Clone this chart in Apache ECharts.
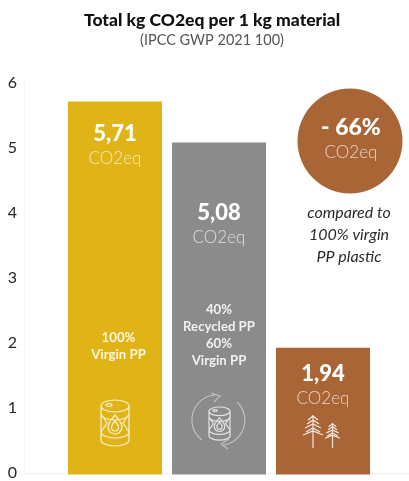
<!DOCTYPE html>
<html lang="en">

<head>
    <meta charset="UTF-8">
    <title>Total kg CO2eq per 1 kg material</title>
    <style>
        html, body { margin: 0; padding: 0; background: #fff; }
    </style>
</head>

<body>
    <div id="main" style="width: 409px;height:481px;"></div>
</body>
<script src="https://cdn.jsdelivr.net/npm/echarts@6/dist/echarts.min.js"></script>

<script>
    var categories = ['100% Virgin PP', '40% Recycled PP 60% Virgin PP', 'Bio-based PP'];
    var values = [5.71, 5.08, 1.94];
    var barColors = ['#E0B416', '#8C8B8B', '#A96536'];
    var yTicks = [0, 6];
    var unit = 'CO2eq';
    var titleText = 'Total kg CO2eq per 1 kg material';
    var subtitleText = '(IPCC GWP 2021 100)';
    var badgeText = '- 66%';
    var noteText = 'compared to\n100% virgin\nPP plastic';
    var virginText = '100%\nVirgin PP';
    var recycledText = '40%\nRecycled PP\n60%\nVirgin PP';

    var font = 'Lato';
    var faded = 'rgba(255,255,255,0.72)';
    var soft = 'rgba(255,255,255,0.88)';

    // icons, drawn in their own small coordinate space
    echarts.graphic.registerShape('barrelIcon', echarts.graphic.extendPath(
        'M0 6A14 6 0 1 1 28 6A14 6 0 1 1 0 6ZM0 6L0 40A14 6 0 0 0 28 40L28 6' +
        'M0 14A14 6 0 0 0 28 14M0 32A14 6 0 0 0 28 32M0 14L6 23L0 32M28 14L22 23L28 32' +
        'M14 15C14 15 7 23 7 27A7 7 0 0 0 21 27C21 23 14 15 14 15Z' +
        'M14 21C14 21 10.5 25 10.5 27.5A3.5 3.5 0 0 0 17.5 27.5C17.5 25 14 21 14 21Z' +
        'M5 5A3 1.3 0 1 1 11 5A3 1.3 0 1 1 5 5Z', {}));
    echarts.graphic.registerShape('treeIcon', echarts.graphic.extendPath(
        'M10 0L10 33M10 1L5 5M10 1L15 5M4 9L10 5L16 9M2 13L10 9L18 13M3 17L10 13L17 17M0 20L10 16L20 20', {}));
    echarts.graphic.registerShape('arrowsIcon', echarts.graphic.extendPath(
        'M22 2A25 25 0 0 0 9 47M30 52A25 25 0 0 0 44 9M18 0L27 3L21 9M36 46L28 51L35 56', {}));

    function icon(type, x, y, sx, sy, opacity) {
        return {
            type: type,
            x: x,
            y: y,
            scaleX: sx,
            scaleY: sy,
            style: { fill: null, stroke: 'rgba(255,255,255,' + opacity + ')', lineWidth: 1.2, strokeNoScale: true },
            z: 10
        };
    }

    function label(text, x, y, size, weight, color, lineHeight, style) {
        return {
            type: 'text',
            x: x,
            y: y,
            z: 10,
            style: {
                text: text,
                x: 0,
                y: 0,
                align: 'center',
                verticalAlign: 'middle',
                font: (style || 'normal') + ' ' + weight + ' ' + size + 'px ' + font,
                lineHeight: lineHeight,
                fill: color
            }
        };
    }

    var labelDistance = [20, 58, 14];

    var myChart = echarts.init(document.getElementById('main'));
    myChart.setOption({
        animation: false,
        // grid 0 holds the bars, grid 1 the wider axis frame
        grid: [
            { left: 63, width: 312, top: 82.5, bottom: 6.5 },
            { left: 24, right: 0, top: 82.5, bottom: 6.5 }
        ],
        xAxis: [
            { type: 'category', gridIndex: 0, data: categories, show: false },
            {
                type: 'value', gridIndex: 1, min: 0, max: 1,
                axisLine: { show: true, onZero: false, lineStyle: { color: '#F0F0F0', width: 1 } },
                axisTick: { show: false }, axisLabel: { show: false }, splitLine: { show: false }
            }
        ],
        yAxis: [
            { type: 'value', gridIndex: 0, min: yTicks[0], max: yTicks[1], show: false },
            {
                type: 'value', gridIndex: 1, min: yTicks[0], max: yTicks[1], interval: 1,
                axisLine: { show: true, lineStyle: { color: '#F6F6F6', width: 1 } },
                axisTick: { show: false },
                splitLine: { show: false },
                axisLabel: { color: '#262626', fontSize: 16, fontFamily: font, margin: 7 }
            }
        ],
        series: [{
            type: 'bar',
            xAxisIndex: 0,
            yAxisIndex: 0,
            barWidth: 94,
            data: values.map(function (v, i) {
                return {
                    value: v,
                    itemStyle: { color: barColors[i] },
                    label: { distance: labelDistance[i] }
                };
            }),
            label: {
                show: true,
                position: 'insideTop',
                formatter: function (p) {
                    return '{v|' + p.value.toFixed(2).replace('.', ',') + '}\n{u|' + unit + '}';
                },
                rich: {
                    v: { fontFamily: font, fontWeight: 900, fontSize: 22, color: '#fff', lineHeight: 25, align: 'center' },
                    u: { fontFamily: font, fontWeight: 300, fontSize: 17, color: faded, lineHeight: 24, align: 'center' }
                }
            }
        }],
        graphic: [
            label(titleText, 212, 20, 17.5, 900, '#111'),
            label(subtitleText, 212, 40, 14.5, 400, '#555'),
            { type: 'circle', shape: { cx: 350, cy: 141, r: 52.5 }, style: { fill: barColors[2] }, z: 5 },
            label(badgeText, 351, 128, 23, 900, '#fff'),
            label(unit, 351, 153, 17, 300, faded),
            label(noteText, 349, 235, 16, 400, '#2A2A2A', 22, 'italic'),
            label(virginText, 118.5, 346, 13.2, 700, soft, 17),
            label(recycledText, 219, 335.5, 13.2, 700, soft, 17),
            icon('barrelIcon', 101, 400, 1, 1, 0.8),
            icon('barrelIcon', 209, 407, 0.75, 0.72, 0.75),
            icon('arrowsIcon', 193, 393, 1, 1, 0.45),
            icon('treeIcon', 303, 415, 1, 1, 0.85),
            icon('treeIcon', 325, 423, 0.75, 0.76, 0.85)
        ]
    });
</script>

</html>
